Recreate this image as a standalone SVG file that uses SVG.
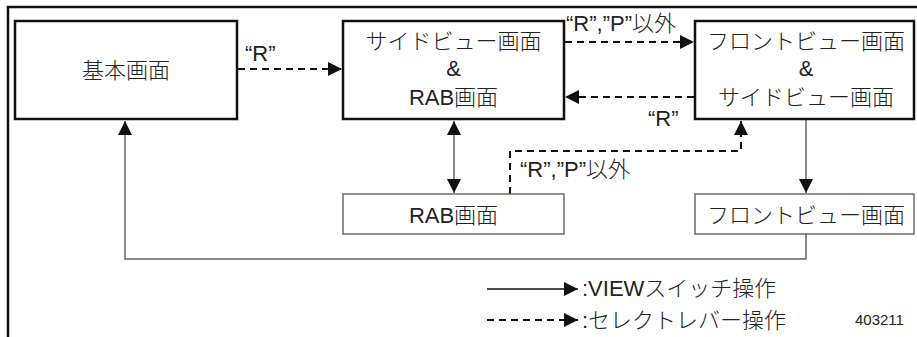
<svg xmlns="http://www.w3.org/2000/svg" width="917" height="337" viewBox="0 0 917 337">
<style>
text{font-family:"Liberation Sans","Noto Sans CJK JP",sans-serif;fill:#222;font-weight:300}
.t{font-size:22px;text-anchor:middle}
.l{font-size:22px}
.thick{fill:#fff;stroke:#111;stroke-width:2.5}
.thin{fill:#fff;stroke:#555;stroke-width:1.3}
.solid{fill:none;stroke:#666;stroke-width:1.5}
.dash{fill:none;stroke:#111;stroke-width:2;stroke-dasharray:7 5}
</style>
<defs>
<marker id="ah" markerUnits="userSpaceOnUse" markerWidth="14" markerHeight="14" viewBox="0 0 14 14" refX="14" refY="7" orient="auto">
<path d="M0,0 L14,7 L0,14 Z" fill="#111"/>
</marker>
<marker id="as" markerUnits="userSpaceOnUse" markerWidth="14" markerHeight="14" viewBox="0 0 14 14" refX="0" refY="7" orient="auto">
<path d="M14,0 L0,7 L14,14 Z" fill="#111"/>
</marker>
</defs>
<g id="frame">
<path d="M8,337 V7 H917" fill="none" stroke="#111" stroke-width="2.5"/>
</g>
<g id="connectors">
<line class="dash" x1="238" y1="69" x2="342" y2="69" marker-end="url(#ah)"/>
<line class="dash" x1="565" y1="42" x2="694" y2="42" marker-end="url(#ah)"/>
<line class="dash" x1="694" y1="97" x2="565" y2="97" marker-end="url(#ah)"/>
<path class="dash" d="M510,194 V151 H741 V121" marker-end="url(#ah)"/>
<line class="solid" x1="454" y1="121" x2="454" y2="193" marker-start="url(#as)" marker-end="url(#ah)"/>
<line class="solid" x1="806" y1="120" x2="806" y2="193" marker-end="url(#ah)"/>
<path class="solid" d="M806,234 V259 H125 V121" marker-end="url(#ah)"/>
<text class="l" x="245" y="61">“R”</text>
<text class="l" x="566" y="31">“R”,”P”以外</text>
<text class="l" x="648" y="126">“R”</text>
<text class="l" x="520" y="177">“R”,”P”以外</text>
</g>
<g id="node-basic">
<rect class="thick" x="15" y="21" width="222" height="98"/>
<text class="t" x="126" y="78">基本画面</text>
</g>
<g id="node-side-rab">
<rect class="thick" x="343" y="21" width="221" height="98"/>
<text class="t" x="453.5" y="49">サイドビュー画面</text>
<text class="t" x="453.5" y="76">&amp;</text>
<text class="t" x="453.5" y="105">RAB画面</text>
</g>
<g id="node-front-side">
<rect class="thick" x="695" y="21" width="219" height="98"/>
<text class="t" x="806" y="49">フロントビュー画面</text>
<text class="t" x="806" y="76">&amp;</text>
<text class="t" x="806" y="105">サイドビュー画面</text>
</g>
<g id="node-rab">
<rect class="thin" x="343" y="194" width="221" height="40"/>
<text class="t" x="453.5" y="223">RAB画面</text>
</g>
<g id="node-front">
<rect class="thin" x="695" y="194" width="219" height="40"/>
<text class="t" x="806" y="223">フロントビュー画面</text>
</g>
<g id="legend">
<line class="solid" x1="487" y1="289" x2="578" y2="289" marker-end="url(#ah)" style="stroke:#111;stroke-width:1.3"/>
<line class="dash" x1="487" y1="320" x2="578" y2="320" marker-end="url(#ah)"/>
<text class="l" x="582" y="296">:VIEWスイッチ操作</text>
<text class="l" x="582" y="328">:セレクトレバー操作</text>
<text x="855" y="325" style="font-size:15px">403211</text>
</g>
</svg>
